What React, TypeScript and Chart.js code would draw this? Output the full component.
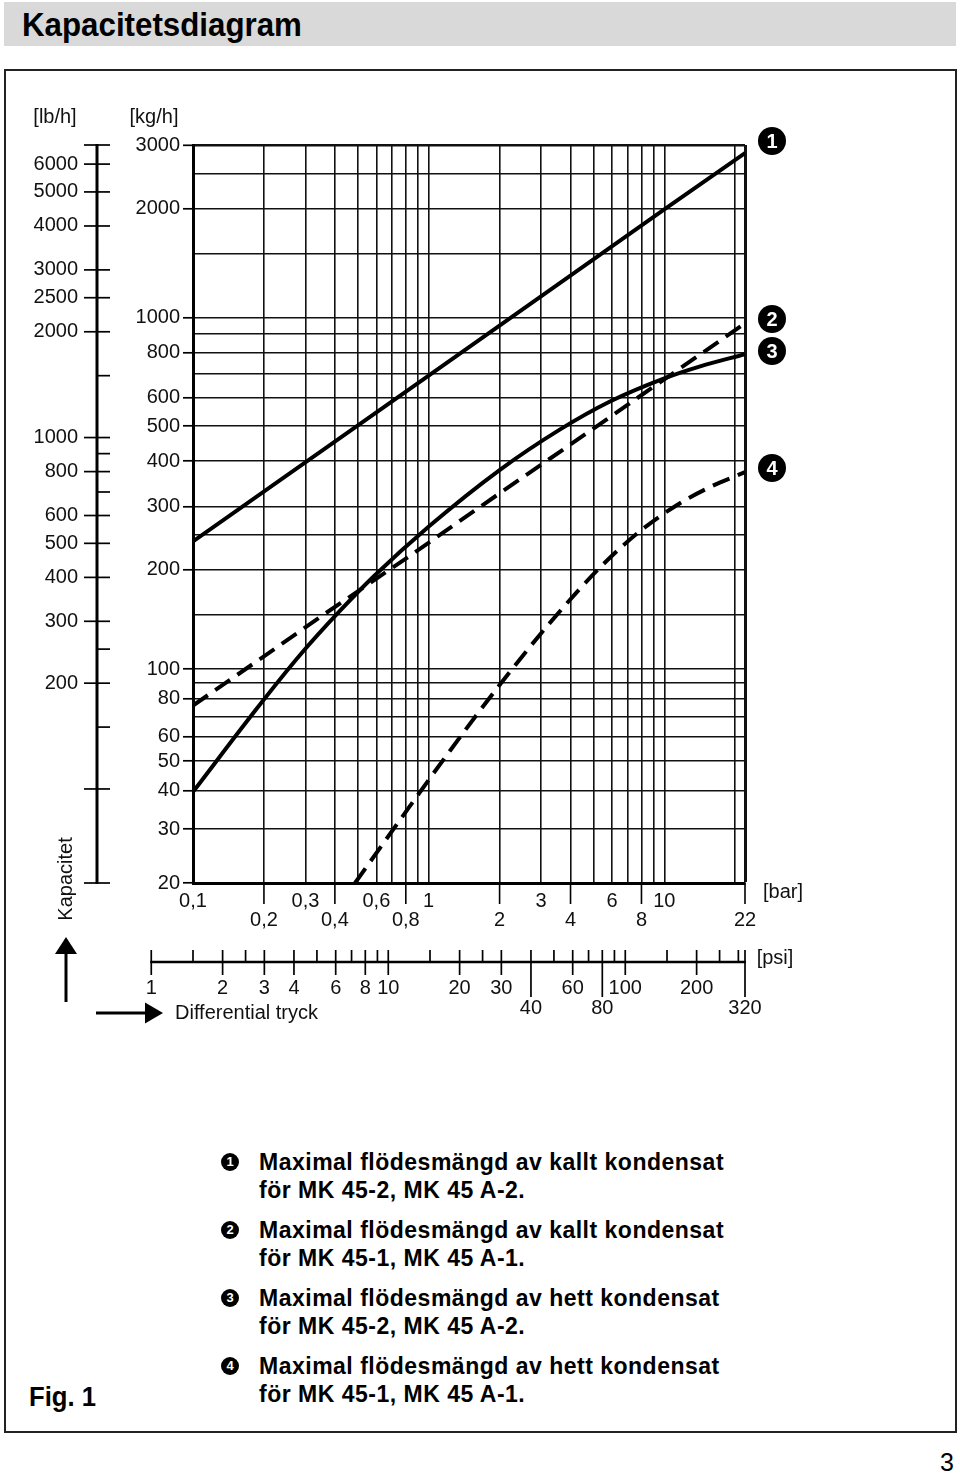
import React, { useEffect, useRef } from 'react';
import { Chart, registerables, LogarithmicScale } from 'chart.js';

const FONT = "'Liberation Sans', Arial, Helvetica, sans-serif";

// ---------------- axis values ----------------
const BAR_GRID = [0.1, 0.2, 0.3, 0.4, 0.5, 0.6, 0.7, 0.8, 0.9, 1, 2, 3, 4, 5, 6, 7, 8, 9, 10, 20, 22];
const BAR_LABELS_TOP = [0.1, 0.3, 0.6, 1, 3, 6, 10];
const BAR_LABELS_LOW = [0.2, 0.4, 0.8, 2, 4, 8, 22];
const KG_GRID = [20, 30, 40, 50, 60, 70, 80, 90, 100, 150, 200, 250, 300, 400, 500, 600, 700, 800, 900, 1000, 1500, 2000, 2500, 3000];
const KG_LABELS = [20, 30, 40, 50, 60, 80, 100, 200, 300, 400, 500, 600, 800, 1000, 2000, 3000];
const LB_LABELS = [6000, 5000, 4000, 3000, 2500, 2000, 1000, 800, 600, 500, 400, 300, 200];
const LB_UNLABELED_MAJOR = [100];
const LB_MINOR = [1500, 900, 700, 250, 150];
const PSI_TICKS = [1, 1.5, 2, 2.5, 3, 4, 5, 6, 7, 8, 9, 10, 15, 20, 25, 30, 40, 50, 60, 70, 80, 90, 100, 150, 200, 250, 300, 320];
const PSI_LABELS_TOP = [1, 2, 3, 4, 6, 8, 10, 20, 30, 60, 100, 200];
const PSI_LABELS_LOW = [40, 80, 320];

// axis ranges
const BAR_MIN = 0.1;
const BAR_MAX = 22;
const KG_MIN = 20;
const KG_MAX = 3000;
const KG_BREAK = 150; // the printed kg/h scale is compressed below this value
const KG_BREAK_SHARE = 0.363;
const LB_MIN = 54;
const LB_MAX = 6800;
const PSI_MIN = 1.5;
const PSI_MAX = 320;

// ---------------- series (bar, kg/h) ----------------
// 1: kallt kondensat MK 45-2
const C1_BAR = [0.1, 1, 10, 22];
const C1_KG = [240, 690, 1990, 2850];
// 2: kallt kondensat MK 45-1 (dashed)
const C2_BAR = [0.1, 0.2, 0.356, 0.8, 2, 4, 10, 22];
const C2_KG = [76, 110, 150, 215, 326, 445, 674, 963];
// 3: hett kondensat MK 45-2
const C3_BAR = [0.1, 0.192, 0.284, 0.42, 0.59, 1.01, 2.0, 3.6, 5.88, 10, 14.2, 22];
const C3_KG = [39.7, 76.4, 110.9, 154, 193, 265, 378, 489, 585, 678, 732, 791];
// 4: hett kondensat MK 45-1 (dashed)
const C4_BAR = [0.487, 0.755, 1.23, 2.0, 3.27, 5.33, 7.88, 11.65, 15.6, 22];
const C4_KG = [20, 32.1, 54, 88.7, 141.5, 203, 256, 306, 339, 373];

const LEGEND = [
  ['1', 'Maximal flödesmängd av kallt kondensat', 'för MK 45-2, MK 45 A-2.'],
  ['2', 'Maximal flödesmängd av kallt kondensat', 'för MK 45-1, MK 45 A-1.'],
  ['3', 'Maximal flödesmängd av hett kondensat', 'för MK 45-2, MK 45 A-2.'],
  ['4', 'Maximal flödesmängd av hett kondensat', 'för MK 45-1, MK 45 A-1.'],
];

// ---------------- custom scale: log with a break ----------------
function brokenDecimal(v: number, min: number, max: number) {
  if (v <= KG_BREAK) return (KG_BREAK_SHARE * Math.log10(v / min)) / Math.log10(KG_BREAK / min);
  return KG_BREAK_SHARE + ((1 - KG_BREAK_SHARE) * Math.log10(v / KG_BREAK)) / Math.log10(max / KG_BREAK);
}
function brokenValue(d: number, min: number, max: number) {
  if (d <= KG_BREAK_SHARE) return min * Math.pow(KG_BREAK / min, d / KG_BREAK_SHARE);
  return KG_BREAK * Math.pow(max / KG_BREAK, (d - KG_BREAK_SHARE) / (1 - KG_BREAK_SHARE));
}

class BrokenLogScale extends LogarithmicScale {
  static id = 'brokenlog';
  getPixelForValue(value: any) {
    let v = value;
    if (v === undefined || v === 0) v = (this as any).min;
    if (v === null || isNaN(v)) return NaN;
    return (this as any).getPixelForDecimal(brokenDecimal(v, (this as any).min, (this as any).max));
  }
  getValueForPixel(pixel: number) {
    const d = (this as any).getDecimalForPixel(pixel);
    return brokenValue(d, (this as any).min, (this as any).max);
  }
}

Chart.register(...registerables, BrokenLogScale as any);

const fmtBar = (v: number) => String(v).replace('.', ',');
const pts = (xs: number[], ys: number[]) => xs.map((x, i) => ({ x, y: ys[i] }));

const overlayPlugin = {
  id: 'overlay',
  afterDraw(chart: any) {
    const ctx: CanvasRenderingContext2D = chart.ctx;
    const xs = chart.scales.x;
    const ys = chart.scales.y;
    const ylb = chart.scales.ylb;
    const xpsi = chart.scales.xpsi;
    const line = (x1: number, y1: number, x2: number, y2: number) => {
      ctx.beginPath();
      ctx.moveTo(x1, y1);
      ctx.lineTo(x2, y2);
      ctx.stroke();
    };
    ctx.save();
    ctx.strokeStyle = '#000';
    ctx.fillStyle = '#111';
    ctx.font = `20px ${FONT}`;
    ctx.lineCap = 'butt';

    // longer ticks below the bar axis
    ctx.lineWidth = 1.6;
    BAR_LABELS_LOW.forEach((v) => {
      const px = xs.getPixelForValue(v);
      line(px, ys.bottom, px, ys.bottom + 21);
    });

    // lb/h axis
    const LBX = 97;
    ctx.lineWidth = 3;
    line(LBX, ylb.top - 1, LBX, ylb.bottom + 1);
    ctx.lineWidth = 1.7;
    line(84, ylb.top, 110, ylb.top);
    line(84, ylb.bottom, 110, ylb.bottom);
    ctx.textAlign = 'right';
    ctx.textBaseline = 'middle';
    LB_LABELS.forEach((v) => {
      const py = ylb.getPixelForValue(v);
      line(84, py, 110, py);
      ctx.fillText(String(v), 78, py);
    });
    LB_UNLABELED_MAJOR.forEach((v) => {
      const py = ylb.getPixelForValue(v);
      line(84, py, 110, py);
    });
    LB_MINOR.forEach((v) => {
      const py = ylb.getPixelForValue(v);
      line(LBX, py, 110, py);
    });

    // psi axis
    const PY = 962;
    ctx.lineWidth = 2.5;
    line(xpsi.getPixelForValue(PSI_TICKS[0]) - 1, PY, xpsi.getPixelForValue(PSI_TICKS[PSI_TICKS.length - 1]) + 1, PY);
    ctx.lineWidth = 1.7;
    ctx.textAlign = 'center';
    PSI_TICKS.forEach((v) => {
      const px = xpsi.getPixelForValue(v);
      line(px, PY - 12, px, PY);
      if (PSI_LABELS_TOP.includes(v)) {
        line(px, PY, px, PY + 13);
        ctx.fillText(String(v), px, 988);
      } else if (PSI_LABELS_LOW.includes(v)) {
        line(px, PY, px, PY + 35);
        ctx.fillText(String(v), px, 1008);
      }
    });

    // unit labels
    ctx.textAlign = 'center';
    ctx.fillText('[lb/h]', 55, 117);
    ctx.fillText('[kg/h]', 154, 117);
    ctx.fillText('[bar]', 783, 892);
    ctx.fillText('[psi]', 775, 958);

    // Kapacitet (rotated)
    ctx.save();
    ctx.translate(66, 879);
    ctx.rotate(-Math.PI / 2);
    ctx.fillText('Kapacitet', 0, 0);
    ctx.restore();

    // Differential tryck
    ctx.textAlign = 'left';
    ctx.fillText('Differential tryck', 175, 1013);

    // arrows
    ctx.fillStyle = '#000';
    ctx.lineWidth = 3;
    line(66, 950, 66, 1002);
    ctx.beginPath();
    ctx.moveTo(66, 937);
    ctx.lineTo(55, 954);
    ctx.lineTo(77, 954);
    ctx.closePath();
    ctx.fill();
    line(96, 1013, 148, 1013);
    ctx.beginPath();
    ctx.moveTo(163, 1013);
    ctx.lineTo(145, 1002.5);
    ctx.lineTo(145, 1023.5);
    ctx.closePath();
    ctx.fill();

    ctx.restore();
  },
};

export default function App() {
  const ref = useRef<HTMLCanvasElement>(null);

  useEffect(() => {
    const canvas = ref.current;
    if (!canvas) return;
    const lineBase = {
      showLine: true,
      borderColor: '#000',
      backgroundColor: '#000',
      borderWidth: 4,
      pointRadius: 0,
      pointHoverRadius: 0,
      fill: false,
      borderCapStyle: 'butt',
      borderJoinStyle: 'round',
    };
    const chart = new Chart(canvas, {
      type: 'scatter',
      data: {
        datasets: [
          { ...lineBase, label: '1', data: pts(C1_BAR, C1_KG), tension: 0 },
          { ...lineBase, label: '2', data: pts(C2_BAR, C2_KG), tension: 0, borderDash: [18, 9] },
          { ...lineBase, label: '3', data: pts(C3_BAR, C3_KG), cubicInterpolationMode: 'monotone' },
          { ...lineBase, label: '4', data: pts(C4_BAR, C4_KG), cubicInterpolationMode: 'monotone', borderDash: [18, 9] },
        ] as any,
      },
      options: {
        animation: false,
        responsive: false,
        events: [],
        layout: { padding: { left: 0, top: 145, right: 215, bottom: 127 } },
        plugins: { legend: { display: false }, tooltip: { enabled: false } },
        scales: {
          x: {
            type: 'logarithmic',
            position: 'bottom',
            min: BAR_MIN,
            max: BAR_MAX,
            afterBuildTicks: (s: any) => {
              s.ticks = BAR_GRID.map((v) => ({ value: v }));
            },
            afterFit: (s: any) => {
              s.height = 50;
            },
            ticks: {
              autoSkip: false,
              maxRotation: 0,
              minRotation: 0,
              padding: 8.5,
              color: '#111',
              font: { family: FONT, size: 20, lineHeight: 0.95 },
              callback: (value: any) => {
                const v = Number(value);
                if (BAR_LABELS_TOP.includes(v)) return fmtBar(v);
                if (BAR_LABELS_LOW.includes(v)) return ['', fmtBar(v)];
                return '';
              },
            },
            grid: {
              color: '#111',
              lineWidth: (c: any) => (c.tick && c.tick.value === BAR_MAX ? 3 : 1.6),
              drawTicks: false,
            },
            border: { display: true, color: '#000', width: 3 },
          },
          y: {
            type: 'brokenlog',
            position: 'left',
            min: KG_MIN,
            max: KG_MAX,
            afterBuildTicks: (s: any) => {
              s.ticks = KG_GRID.map((v) => ({ value: v }));
            },
            afterFit: (s: any) => {
              s.width = 193;
            },
            ticks: {
              autoSkip: false,
              padding: 3,
              color: '#111',
              font: { family: FONT, size: 20 },
              callback: (value: any) => (KG_LABELS.includes(Number(value)) ? String(value) : ''),
            },
            grid: {
              color: '#111',
              lineWidth: (c: any) => (c.tick && c.tick.value === KG_MAX ? 2.6 : 1.6),
              drawTicks: true,
              tickLength: 10,
              tickWidth: 1.7,
              tickColor: (c: any) => (c.tick && KG_LABELS.includes(c.tick.value) ? '#000' : 'rgba(0,0,0,0)'),
            },
            border: { display: true, color: '#000', width: 3 },
          },
          ylb: {
            type: 'logarithmic',
            axis: 'y',
            position: 'left',
            display: false,
            min: LB_MIN,
            max: LB_MAX,
          },
          xpsi: {
            type: 'logarithmic',
            axis: 'x',
            position: 'bottom',
            display: false,
            min: PSI_MIN,
            max: PSI_MAX,
          },
        } as any,
      },
      plugins: [overlayPlugin],
    } as any);
    return () => chart.destroy();
  }, []);

  const markerCenters = [141, 319, 351, 468];

  return (
    <div
      style={{
        position: 'absolute',
        left: 0,
        top: 0,
        width: 960,
        height: 1476,
        background: '#fff',
        fontFamily: FONT,
        color: '#111',
        overflow: 'hidden',
      }}
    >
      <div
        style={{
          position: 'absolute',
          left: 4,
          top: 2,
          width: 952,
          height: 44,
          background: '#d9d9d9',
        }}
      >
        <div
          style={{
            position: 'absolute',
            left: 18,
            top: 0,
            lineHeight: '44px',
            fontSize: 34,
            fontWeight: 'bold',
            color: '#000',
            whiteSpace: 'nowrap',
            transform: 'scaleX(0.92)',
            transformOrigin: 'left center',
          }}
        >
          Kapacitetsdiagram
        </div>
      </div>
      <div
        style={{
          position: 'absolute',
          left: 4,
          top: 69,
          width: 953,
          height: 1364,
          border: '2px solid #222',
          boxSizing: 'border-box',
        }}
      />
      <canvas
        ref={ref}
        width={960}
        height={1060}
        style={{ position: 'absolute', left: 0, top: 0, width: 960, height: 1060 }}
      />
      {markerCenters.map((cy, i) => (
        <div
          key={'m' + i}
          style={{
            position: 'absolute',
            left: 758,
            top: cy - 14,
            width: 28,
            height: 28,
            borderRadius: '50%',
            background: '#000',
            color: '#fff',
            fontWeight: 'bold',
            fontSize: 20,
            lineHeight: '28px',
            textAlign: 'center',
          }}
        >
          {String(i + 1)}
        </div>
      ))}
      {LEGEND.map((item, i) => {
        const cy = 1162 + i * 68;
        return (
          <React.Fragment key={'l' + i}>
            <div
              style={{
                position: 'absolute',
                left: 221,
                top: cy - 9,
                width: 18,
                height: 18,
                borderRadius: '50%',
                background: '#000',
                color: '#fff',
                fontWeight: 'bold',
                fontSize: 13,
                lineHeight: '18px',
                textAlign: 'center',
              }}
            >
              {item[0]}
            </div>
            <div
              style={{
                position: 'absolute',
                left: 259,
                top: cy - 14,
                fontSize: 23,
                fontWeight: 'bold',
                lineHeight: '28px',
                letterSpacing: 0.5,
                color: '#000',
                whiteSpace: 'nowrap',
              }}
            >
              <div>{item[1]}</div>
              <div>{item[2]}</div>
            </div>
          </React.Fragment>
        );
      })}
      <div
        style={{
          position: 'absolute',
          left: 29,
          top: 1382,
          fontSize: 27,
          fontWeight: 'bold',
          lineHeight: '30px',
          color: '#000',
          transform: 'scaleX(0.95)',
          transformOrigin: 'left center',
        }}
      >
        Fig. 1
      </div>
      <div
        style={{
          position: 'absolute',
          left: 940,
          top: 1447,
          fontSize: 25,
          lineHeight: '30px',
          color: '#000',
        }}
      >
        3
      </div>
    </div>
  );
}
